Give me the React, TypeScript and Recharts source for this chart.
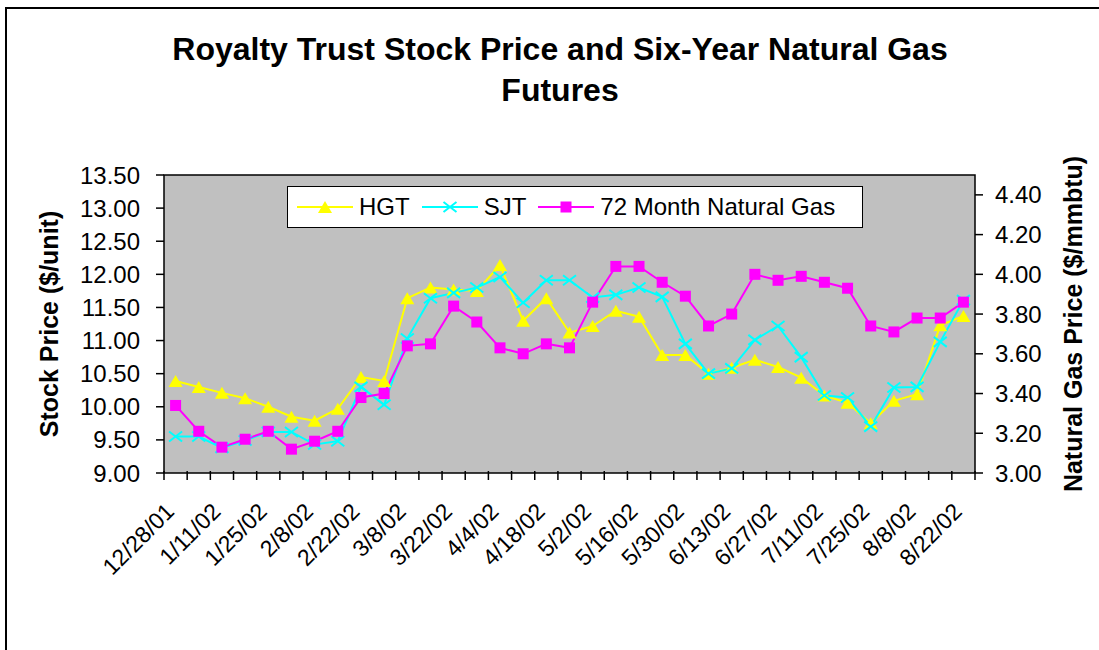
import { LineChart, Line, XAxis, YAxis, ReferenceArea, Legend } from "recharts";

const dates = [
  "12/28/01", "1/4/02", "1/11/02", "1/18/02", "1/25/02", "2/1/02", "2/8/02",
  "2/15/02", "2/22/02", "3/1/02", "3/8/02", "3/15/02", "3/22/02", "3/28/02",
  "4/4/02", "4/11/02", "4/18/02", "4/25/02", "5/2/02", "5/9/02", "5/16/02",
  "5/23/02", "5/30/02", "6/6/02", "6/13/02", "6/20/02", "6/27/02", "7/3/02",
  "7/11/02", "7/18/02", "7/25/02", "8/1/02", "8/8/02", "8/15/02", "8/22/02",
];

const hgt = [
  10.39, 10.3, 10.21, 10.13, 10.0, 9.85, 9.79, 9.97, 10.45, 10.39, 11.64,
  11.8, 11.77, 11.75, 12.14, 11.3, 11.64, 11.12, 11.22, 11.45, 11.36, 10.78,
  10.78, 10.5, 10.59, 10.71, 10.6, 10.44, 10.17, 10.06, 9.75, 10.09, 10.19,
  11.23, 11.37,
];

const sjt = [
  9.55, 9.55, 9.38, 9.49, 9.62, 9.62, 9.43, 9.48, 10.3, 10.03, 11.03, 11.64,
  11.72, 11.8, 11.96, 11.57, 11.91, 11.91, 11.65, 11.69, 11.8, 11.66, 10.95,
  10.5, 10.58, 11.01, 11.22, 10.75, 10.17, 10.14, 9.7, 10.29, 10.3, 10.98,
  11.61,
];

const gas = [
  3.34, 3.21, 3.13, 3.17, 3.21, 3.12, 3.16, 3.21, 3.38, 3.4, 3.64, 3.65,
  3.84, 3.76, 3.63, 3.6, 3.65, 3.63, 3.86, 4.04, 4.04, 3.96, 3.89, 3.74,
  3.8, 4.0, 3.97, 3.99, 3.96, 3.93, 3.74, 3.71, 3.78, 3.78, 3.86,
];

const stockTicks = [9, 9.5, 10, 10.5, 11, 11.5, 12, 12.5, 13, 13.5];
const gasTicks = [3, 3.2, 3.4, 3.6, 3.8, 4, 4.2, 4.4];
// tick marks sit on the boundaries between weeks, like Excel
const slotTicks = [
  0, 1, 2, 3, 4, 5, 6, 7, 8, 9, 10, 11, 12, 13, 14, 15, 16, 17, 18, 19, 20,
  21, 22, 23, 24, 25, 26, 27, 28, 29, 30, 31, 32, 33, 34, 35,
];
const legendOrder = ["hgt", "sjt", "gas"];

const data = dates.map((d, i) => ({
  date: d,
  slot: i + 0.5,
  hgt: hgt[i],
  sjt: sjt[i],
  gas: gas[i],
}));

const FONT = "'Liberation Sans', Arial, sans-serif";

const Triangle = ({ cx, cy, fill }: any) => (
  <path
    d={`M${cx},${cy - 6}L${cx + 7},${cy + 6}L${cx - 7},${cy + 6}Z`}
    fill={fill}
  />
);
const Cross = ({ cx, cy, stroke }: any) => (
  <path
    d={`M${cx - 6.5},${cy - 5}L${cx + 6.5},${cy + 5}M${cx - 6.5},${cy + 5}L${cx + 6.5},${cy - 5}`}
    stroke={stroke}
    strokeWidth={2}
    fill="none"
  />
);
const Square = ({ cx, cy, fill }: any) => (
  <rect x={cx - 5.5} y={cy - 5.5} width={11} height={11} fill={fill} />
);

const markers: Record<string, (p: any) => any> = {
  hgt: (p) => <Triangle {...p} fill="#ffff00" />,
  sjt: (p) => <Cross {...p} stroke="#00ffff" />,
  gas: (p) => <Square {...p} fill="#ff00ff" />,
};

function dotFor(key: string) {
  return (props: any) => {
    if (props.cx == null || props.cy == null) return <g key={`${key}-${props.index}`} />;
    return <g key={`${key}-${props.index}`}>{markers[key]({ cx: props.cx, cy: props.cy })}</g>;
  };
}

// both bottom axes are 1px tall (zero-height axes are not drawn), so their
// stacking order only shifts things by a pixel
function SlotTick({ x, y }: any) {
  return <line x1={x} y1={y - 2} x2={x} y2={y + 7} stroke="#000" strokeWidth={1.5} />;
}

function DateTick({ x, y, payload }: any) {
  const ay = y + 39;
  return (
    <text
      x={x}
      y={ay}
      transform={`rotate(-45 ${x} ${ay})`}
      textAnchor="end"
      fontSize={23}
      fontFamily={FONT}
      fill="#000"
    >
      {payload.value}
    </text>
  );
}

function AxisTitle({ viewBox, text, offsetX }: any) {
  const cx = viewBox.x + offsetX;
  const cy = viewBox.y + viewBox.height / 2;
  return (
    <text
      x={cx}
      y={cy}
      transform={`rotate(-90 ${cx} ${cy})`}
      textAnchor="middle"
      dominantBaseline="central"
      fontSize={25}
      fontWeight="bold"
      fontFamily={FONT}
      fill="#000"
    >
      {text}
    </text>
  );
}

function LegendBox({ payload }: any) {
  const items = [...(payload || [])].sort(
    (a: any, b: any) => legendOrder.indexOf(a.dataKey) - legendOrder.indexOf(b.dataKey)
  );
  return (
    <div
      style={{
        display: "flex",
        alignItems: "center",
        height: 42,
        boxSizing: "border-box",
        border: "1px solid #000",
        background: "#fff",
        paddingLeft: 9,
        fontFamily: FONT,
        fontSize: 24,
        color: "#000",
      }}
    >
      {items.map((entry: any) => {
        const key = entry.dataKey as string;
        return (
          <div key={key} style={{ display: "flex", alignItems: "center", marginRight: 12 }}>
            <svg width={56} height={20} style={{ marginRight: 6 }}>
              <line x1={0} y1={10} x2={56} y2={10} stroke={entry.color} strokeWidth={2} />
              {markers[key]({ cx: 28, cy: 10 })}
            </svg>
            <span>{entry.value}</span>
          </div>
        );
      })}
    </div>
  );
}

export default function App() {
  return (
    <div
      style={{
        position: "fixed",
        left: 0,
        top: 0,
        width: 1099,
        height: 650,
        overflow: "hidden",
        background: "#fff",
      }}
    >
      <div
        style={{
          position: "absolute",
          left: 5,
          top: 7,
          width: 1200,
          height: 800,
          border: "2px solid #000",
        }}
      />
      <div
        style={{
          position: "absolute",
          left: 0,
          top: 29,
          width: 1120,
          textAlign: "center",
          fontFamily: FONT,
          fontWeight: "bold",
          fontSize: 32,
          lineHeight: "41px",
          color: "#000",
        }}
      >
        Royalty Trust Stock Price and Six-Year Natural Gas
        <br />
        Futures
      </div>
      <div style={{ position: "absolute", left: 0, top: 0 }}>
        <LineChart
          width={1099}
          height={650}
          data={data}
          margin={{ top: 175, right: 0, bottom: 175, left: 0 }}
        >
          <XAxis
            xAxisId="bounds"
            type="number"
            dataKey="slot"
            domain={[0, 35]}
            ticks={slotTicks}
            interval={0}
            height={1}
            tickSize={0}
            tickMargin={0}
            tickLine={false}
            axisLine={false}
            tick={<SlotTick />}
          />
          <XAxis
            xAxisId="dates"
            dataKey="date"
            interval={1}
            height={1}
            padding={{ left: 11.6, right: 11.6 }}
            tickSize={0}
            tickMargin={0}
            tickLine={false}
            axisLine={false}
            tick={<DateTick />}
          />
          <YAxis
            yAxisId="stock"
            domain={[9, 13.5]}
            ticks={stockTicks}
            interval={0}
            width={164}
            tickSize={8}
            tickMargin={16}
            stroke="#000"
            tickLine={{ stroke: "#000", strokeWidth: 1.5 }}
            axisLine={false}
            tickFormatter={(v: number) => v.toFixed(2)}
            tick={{ fill: "#000", fontSize: 24, fontFamily: FONT }}
            label={(p: any) => <AxisTitle {...p} text="Stock Price ($/unit)" offsetX={49} />}
          />
          <YAxis
            yAxisId="gas"
            orientation="right"
            domain={[3, 4.5]}
            ticks={gasTicks}
            interval={0}
            width={124}
            tickSize={8}
            tickMargin={12}
            stroke="#000"
            tickLine={{ stroke: "#000", strokeWidth: 1.5 }}
            axisLine={false}
            tickFormatter={(v: number) => v.toFixed(2)}
            tick={{ fill: "#000", fontSize: 24, fontFamily: FONT }}
            label={(p: any) => (
              <AxisTitle {...p} text="Natural Gas Price ($/mmbtu)" offsetX={98} />
            )}
          />
          <ReferenceArea
            xAxisId="bounds"
            yAxisId="stock"
            x1={0}
            x2={35}
            y1={9}
            y2={13.5}
            fill="#c0c0c0"
            fillOpacity={1}
            stroke="#000"
            strokeWidth={1.5}
          />
          <Legend
            verticalAlign="middle"
            align="center"
            layout="horizontal"
            wrapperStyle={{ position: "absolute", left: 287, top: 186, width: 576 }}
            content={<LegendBox />}
          />
          <Line
            xAxisId="bounds"
            yAxisId="stock"
            dataKey="hgt"
            name="HGT"
            stroke="#ffff00"
            strokeWidth={2}
            dot={dotFor("hgt")}
            activeDot={false}
            isAnimationActive={false}
          />
          <Line
            xAxisId="bounds"
            yAxisId="stock"
            dataKey="sjt"
            name="SJT"
            stroke="#00ffff"
            strokeWidth={2}
            dot={dotFor("sjt")}
            activeDot={false}
            isAnimationActive={false}
          />
          <Line
            xAxisId="bounds"
            yAxisId="gas"
            dataKey="gas"
            name="72 Month Natural Gas"
            stroke="#ff00ff"
            strokeWidth={2}
            dot={dotFor("gas")}
            activeDot={false}
            isAnimationActive={false}
          />
        </LineChart>
      </div>
    </div>
  );
}
